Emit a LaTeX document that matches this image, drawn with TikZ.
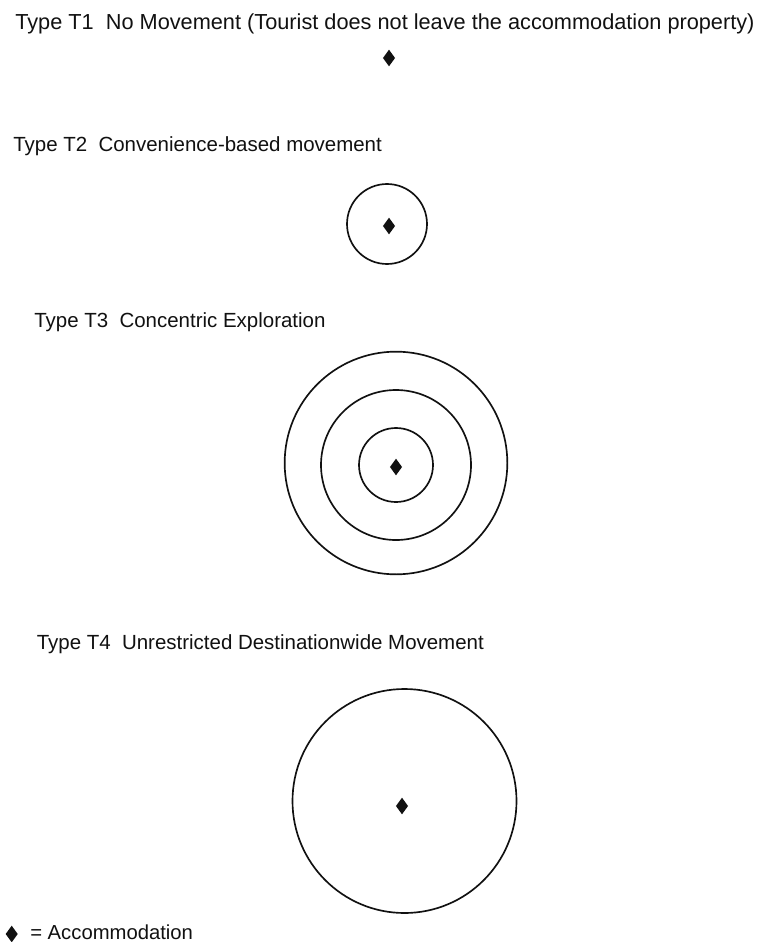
\documentclass[tikz,border=0pt]{standalone}
\usepackage{fontspec}
\setmainfont{Liberation Sans}
\usepackage{xcolor}
\usetikzlibrary{positioning,shapes.geometric}
\definecolor{ink}{HTML}{111111}
\tikzset{
  title/.style={anchor=base west,inner sep=0pt,text=ink,font=\fontsize{15.35}{18}\selectfont},
  lodge/.style={diamond,fill=ink,draw=none,inner sep=0pt,minimum width=9.2pt,minimum height=12.6pt},
  zone/.style={circle,draw=ink,line width=1.25pt,inner sep=0pt,minimum size=#1}
}

\begin{document}
\begin{tikzpicture}[x=0.75pt,y=-0.75pt]
  \useasboundingbox[fill=white] (0,0) rectangle (763,942);

  % T1
  \node[title,font=\fontsize{16.3}{19}\selectfont] (t1title) at (15,30) {Type T1\ \ No Movement (Tourist does not leave the accommodation property)};
  \node[lodge] (t1lodge) at (389,58) {};

  % T2
  \node[title] (t2title) at (13,151) {Type T2\ \ Convenience-based movement};
  \node[zone=60pt] (t2zone) at (387,224) {};
  \node[lodge] (t2lodge) at (389,226) {};

  % T3
  \node[title] (t3title) at (34,327.5) {Type T3\ \ Concentric Exploration};
  \node[zone=55.5pt] (t3inner) at (396,465) {};
  \node[zone=112.5pt] (t3middle) at (396,465) {};
  \node[zone=167pt] (t3outer) at (396,463) {};
  \node[lodge] (t3lodge) at (396,467) {};

  % T4
  \node[title] (t4title) at (36.5,649) {Type T4\ \ Unrestricted Destinationwide Movement};
  \node[zone=168pt] (t4zone) at (404.5,801) {};
  \node[lodge] (t4lodge) at (402,806) {};

  % legend
  \node[lodge] (keylodge) at (11.7,934) {};
  \node[title,font=\fontsize{15.2}{18}\selectfont] (keytext) at (30,939.5) {= Accommodation};
\end{tikzpicture}
\end{document}
